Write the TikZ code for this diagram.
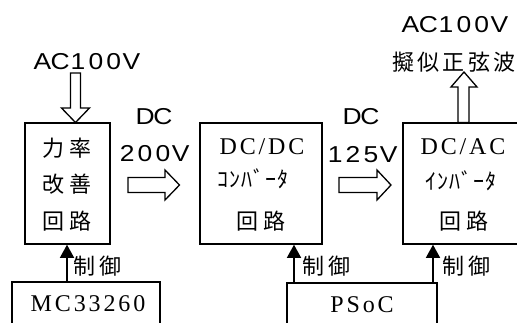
\documentclass[tikz,border=0pt]{standalone}
\usepackage{fontspec}
\usepackage{graphicx}
\usetikzlibrary{arrows.meta}
\newfontfamily\jp[LetterSpace=20]{Noto Sans CJK JP}
\newfontfamily\jpw[LetterSpace=14]{Noto Sans CJK JP}
\newfontfamily\jpk[LetterSpace=5]{Noto Sans CJK JP}
\newfontfamily\gs{Liberation Sans}
\newfontfamily\ms[LetterSpace=12]{Liberation Serif}
\newlength\monow
\setlength\monow{17.8pt}
\def\monoloop#1{\ifx#1\relax\else\makebox[\monow]{\scalebox{1.15}[1]{#1}}\expandafter\monoloop\fi}
\newcommand\monotext[1]{\monoloop#1\relax}
\tikzset{
  blk/.style={draw, line width=1.5pt, inner sep=0pt},
  hollow/.style={draw, line width=1.3pt, fill=white, line join=miter},
  ctrl/.style={line width=1.3pt, -{Triangle[width=14pt,length=13pt]}},
  jtxt/.style={font=\jp\fontsize{22}{24}\selectfont, inner sep=0pt},
  wtxt/.style={font=\jpw\fontsize{22}{24}\selectfont, inner sep=0pt},
  ktxt/.style={font=\jpk\fontsize{22}{24}\selectfont, inner sep=0pt},
  stxt/.style={font=\gs\fontsize{23}{25}\selectfont, inner sep=0pt},
  mtxt/.style={font=\ms\fontsize{24}{26}\selectfont, inner sep=0pt},
}
\begin{document}
\begin{tikzpicture}[x=1pt,y=-1pt]
\useasboundingbox (0,0) rectangle (517,322);
\clip (0,0) rectangle (517,322);
% blocks
\node[blk, minimum width=85pt, minimum height=121pt] (pfc) at (67.5,183.5) {};
\node[blk, minimum width=122pt, minimum height=121pt] (dcdc) at (261,183.5) {};
\node[blk, minimum width=116pt, minimum height=121pt] (inv) at (461,183.5) {};
\node[blk, minimum width=148pt, minimum height=50pt] (mc) at (86,307) {};
\node[blk, minimum width=150pt, minimum height=50pt] (psoc) at (362,308) {};
% block texts
\node[jtxt] (t11) at (67,148) {力率};
\node[jtxt] (t12) at (67,184) {改善};
\node[jtxt] (t13) at (67,221) {回路};
\node[mtxt] (t21) at (262,147) {DC/DC};
\node[ktxt] (t22) at (253,179) {ｺﾝﾊﾞｰﾀ};
\node[jtxt] (t23) at (261,221) {回路};
\node[mtxt] (t31) at (463,147) {DC/AC};
\node[ktxt] (t32) at (461,181) {ｲﾝﾊﾞｰﾀ};
\node[jtxt] (t33) at (464,221) {回路};
\node[mtxt] (tmc) at (88,304) {MC33260};
\node[mtxt] (tps) at (362,305) {PSoC};
% labels
\node[stxt] (ain) at (87,61.5) {\monotext{AC100V}};
\node[stxt] (dc1) at (154,116.5) {\monotext{DC}};
\node[stxt] (v1) at (154,154) {\monotext{200V}};
\node[stxt] (dc2) at (361,116.5) {\monotext{DC}};
\node[stxt] (v2) at (362,155) {\monotext{125V}};
\node[stxt] (aout) at (455,25) {\monotext{AC100V}};
\node[wtxt] (wave) at (454,62) {擬似正弦波};
% hollow arrows
\draw[hollow] (70.5,73) -- (80.5,73) -- (80.5,108) -- (89.5,108) -- (75.5,122.5)
  -- (61.5,108) -- (70.5,108) -- cycle;
\draw[hollow] (128,177.5) -- (165,177.5) -- (165,170) -- (179.5,185) -- (165,200)
  -- (165,192.5) -- (128,192.5) -- cycle;
\draw[hollow] (339,177.5) -- (377,177.5) -- (377,170) -- (391,185) -- (377,200)
  -- (377,192.5) -- (339,192.5) -- cycle;
\draw[hollow] (458,122.5) -- (458,87) -- (451,87) -- (464,72) -- (477,87)
  -- (469,87) -- (469,122.5) -- cycle;
% control arrows
\coordinate (c1) at (67,282);
\coordinate (c2) at (294,283);
\coordinate (c3) at (433,283);
\draw[ctrl] (c1) -- (c1 |- pfc.south);
\draw[ctrl] (c2) -- (c2 |- dcdc.south);
\draw[ctrl] (c3) -- (c3 |- inv.south);
\node[jtxt, anchor=west] (l1) at (73,266) {制御};
\node[jtxt, anchor=west] (l2) at (302,266) {制御};
\node[jtxt, anchor=west] (l3) at (442,266) {制御};
\end{tikzpicture}
\end{document}
